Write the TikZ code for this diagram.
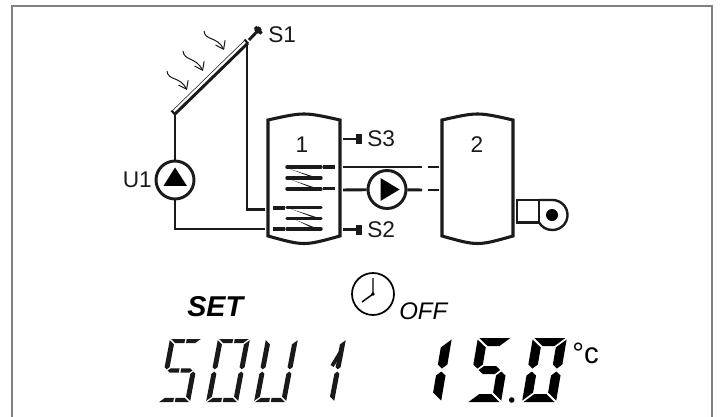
\documentclass[tikz,border=0pt]{standalone}
\usepackage{fontspec}
\setmainfont{Liberation Sans}
\usetikzlibrary{arrows.meta}
\definecolor{ink}{HTML}{1A1A1A}
\definecolor{framec}{HTML}{808080}
\tikzset{
  pipe/.style={draw=ink,line width=2.2pt},
  tankbody/.style={draw=ink,line width=2.3pt},
  pumpring/.style={circle,draw=ink,line width=2.2pt,minimum size=28.5pt,inner sep=0pt},
  coil/.style={draw=ink,line width=2.6pt,line cap=round},
  coildash/.style={draw=ink,line width=2.4pt},
  sunray/.style={draw=ink,line width=.75pt,-{Straight Barb[length=5.5pt,width=8pt,line width=.75pt]}},
  lab/.style={inner sep=0pt,text=ink,font=\fontsize{17pt}{18pt}\selectfont},
  probe/.style={draw=ink,line width=2.2pt,-{Rectangle[length=4.5pt,width=7.5pt]}},
}
% seven-segment display pieces, local coordinates in px, y up
\newcommand{\segA}{\fill (\O,\H) -- ({\W-\O},\H) -- ({\W-\O-\Tx},{\H-\Ty}) -- ({\O+\Tx},{\H-\Ty}) -- cycle;}
\newcommand{\segAa}{\fill (\O,\H) -- ({\W/2-.8},\H) -- ({\W/2-.8},{\H-\Ty}) -- ({\O+\Tx},{\H-\Ty}) -- cycle;}
\newcommand{\segAb}{\fill ({\W/2+.8},\H) -- ({\W-\O},\H) -- ({\W-\O-\Tx},{\H-\Ty}) -- ({\W/2+.8},{\H-\Ty}) -- cycle;}
\newcommand{\segD}{\fill (\O,0) -- ({\W-\O},0) -- ({\W-\O-\Tx},\Ty) -- ({\O+\Tx},\Ty) -- cycle;}
\newcommand{\segDa}{\fill (\O,0) -- ({\W/2-.8},0) -- ({\W/2-.8},\Ty) -- ({\O+\Tx},\Ty) -- cycle;}
\newcommand{\segDb}{\fill ({\W/2+.8},0) -- ({\W-\O},0) -- ({\W-\O-\Tx},\Ty) -- ({\W/2+.8},\Ty) -- cycle;}
\newcommand{\segF}{\fill (0,{\H-\O}) -- (\Tx,{\H-\O-\Ty}) -- (\Tx,{\H/2+\Ty/2+\O}) -- ({\Tx/2},{\H/2+\O}) -- (0,{\H/2+\O+\Ty/2}) -- cycle;}
\newcommand{\segE}{\fill (0,\O) -- (\Tx,{\O+\Ty}) -- (\Tx,{\H/2-\Ty/2-\O}) -- ({\Tx/2},{\H/2-\O}) -- (0,{\H/2-\O-\Ty/2}) -- cycle;}
\newcommand{\segB}{\fill (\W,{\H-\O}) -- ({\W-\Tx},{\H-\O-\Ty}) -- ({\W-\Tx},{\H/2+\Ty/2+\O}) -- ({\W-\Tx/2},{\H/2+\O}) -- (\W,{\H/2+\O+\Ty/2}) -- cycle;}
\newcommand{\segC}{\fill (\W,\O) -- ({\W-\Tx},{\O+\Ty}) -- ({\W-\Tx},{\H/2-\Ty/2-\O}) -- ({\W-\Tx/2},{\H/2-\O}) -- (\W,{\H/2-\O-\Ty/2}) -- cycle;}
\newcommand{\segG}{\fill ({\Tx/2+\O},{\H/2}) -- ({\Tx+\O},{\H/2+\Ty/2}) -- ({\W-\Tx-\O},{\H/2+\Ty/2}) -- ({\W-\Tx/2-\O},{\H/2}) -- ({\W-\Tx-\O},{\H/2-\Ty/2}) -- ({\Tx+\O},{\H/2-\Ty/2}) -- cycle;}
\newcommand{\segGa}{\fill ({\Tx/2+\O},{\H/2}) -- ({\Tx+\O},{\H/2+\Ty/2}) -- ({\W/2-.8},{\H/2+\Ty/2}) -- ({\W/2-.8},{\H/2-\Ty/2}) -- ({\Tx+\O},{\H/2-\Ty/2}) -- cycle;}
\newcommand{\segGb}{\fill ({\W/2+.8},{\H/2+\Ty/2}) -- ({\W-\Tx-\O},{\H/2+\Ty/2}) -- ({\W-\Tx/2-\O},{\H/2}) -- ({\W-\Tx-\O},{\H/2-\Ty/2}) -- ({\W/2+.8},{\H/2-\Ty/2}) -- cycle;}
\newcommand{\thinparams}{\def\W{32}\def\H{63}\def\Tx{5}\def\Ty{4.2}\def\O{1.2}}
\newcommand{\boldparams}{\def\W{34}\def\H{64}\def\Tx{9.5}\def\Ty{8}\def\O{1.5}}
\begin{document}
\begin{tikzpicture}[x=.75pt,y=-.75pt]
\useasboundingbox (0,0) rectangle (721,417);
\fill[white] (0,0) rectangle (721,417);
% frame, open at the bottom
\draw[framec,line width=1.2pt] (12,417) -- (12,6) -- (712,6) -- (712,417);

% collector
\coordinate (panelLow) at (175,114);
\coordinate (panelHigh) at (247,43);
\draw[ink,line width=.4pt] (172,111) -- (245,40);
\draw[ink,line width=2.2pt] (175,114) -- (248,43);
\draw[ink,line width=1.6pt] (171.5,110.5) -- (175,114.5);
\draw[ink,line width=1.6pt] (244.5,39.5) -- (248,43.5);
% sun rays
\draw[sunray] (167,71) .. controls (168,81) and (180,76) .. (187,90);
\draw[sunray] (183,51) .. controls (184,61) and (196,57) .. (203,71);
\draw[sunray] (204,31) .. controls (205,41) and (217,36) .. (224,50);
% S1 probe
\coordinate (s1a) at (249,40);
\coordinate (s1b) at (258,30.5);
\draw[ink,line width=2.2pt] (s1a) -- (s1b);
\draw[ink,line width=2.6pt] (255,27) -- (261.5,33.5);
\fill[ink] (258,30) circle (3.6);
\node[lab,anchor=west] (ls1) at (268,35) {S1};

% tanks
\draw[tankbody] (268,120) .. controls (304,112) .. (340,120) -- (340,236) .. controls (304,246) .. (268,236) -- cycle;
\draw[tankbody] (442,120) .. controls (477.5,112) .. (513,120) -- (513,236) .. controls (477.5,246) .. (442,236) -- cycle;
\node[lab] (t1) at (302,145) {1};
\node[lab] (t2) at (477,145) {2};

% pump U1
\node[pumpring] (u1) at (175,180) {};
\fill[black] (175,167.5) -- (187,186) -- (163.5,186) -- cycle;
\node[lab,anchor=east] (lu1) at (152,180) {U1};
\coordinate (t1in) at (265,229);
\coordinate (corner1) at (175,229);
\coordinate (t1out) at (265,209.5);
\coordinate (corner2) at (247,209.5);
\draw[pipe] (panelLow) -- (u1);
\draw[pipe] (u1) -- (corner1) -- (t1in);
\draw[pipe] (panelHigh) -- (corner2) -- (t1out);

% coils
\foreach \yy in {167,178,189,207.5,218.5,229}{\draw[coil] (287,\yy) -- (321,\yy);}
\fill[ink] (290,169) -- (315,177) -- (311,177) -- cycle;
\fill[ink] (292,180) -- (316,188) -- (312,188) -- cycle;
\fill[ink] (291,209) -- (316,217) -- (312,217) -- cycle;
\fill[ink] (296,220) -- (316,228) -- (312,228) -- cycle;
\draw[coildash] (323,167) -- (335,167);
\draw[coildash] (323,188.5) -- (335,188.5);
\draw[coildash] (273,208) -- (285,208);
\draw[coildash] (273,229) -- (285,229);

% circuit to tank 2
\coordinate (a1) at (343,167);
\coordinate (a2) at (422,167);
\draw[pipe] (a1) -- (a2);
\draw[pipe] (428,167) -- (439,167);
\node[pumpring] (p2) at (387,189.5) {};
\fill[black] (380.5,178) -- (399.5,189.5) -- (380.5,201) -- cycle;
\coordinate (b1) at (343,190);
\coordinate (b2) at (422,190);
\draw[pipe] (b1) -- (p2);
\draw[pipe] (p2) -- (b2);
\draw[pipe] (428,190) -- (439,190);

% probes S3 S2
\node[lab,anchor=west] (ls3) at (367,139) {S3};
\node[lab,anchor=west] (ls2) at (367,230) {S2};
\coordinate (s3a) at (343,139);
\coordinate (s2a) at (343,229.5);
\coordinate (s3b) at (362,139);
\coordinate (s2b) at (362,229.5);
\draw[probe] (s3a) -- (s3b);
\draw[probe] (s2a) -- (s2b);

% boiler
\draw[ink,line width=2.2pt] (517,200) rectangle (539,222.5);
\draw[ink,line width=1.8pt] (539,200) -- (552.5,200) arc[start angle=-90,end angle=90,x radius=15,y radius=15]
  .. controls (546,230) and (542,227) .. (539,222.5);
\fill[black] (552,215) circle (6);

% lower text
\node[inner sep=0pt,anchor=west,text=black,font=\fontsize{21.5pt}{24pt}\selectfont\bfseries\itshape] (set) at (187,307) {SET};
\draw[black,line width=1.3pt] (373,294) circle (21);
\draw[black,line width=1.1pt] (373,278) -- (373,294) -- (362,302);
\fill[black] (373,294) circle (1.8);
\node[inner sep=0pt,anchor=west,text=black,font=\fontsize{18pt}{20pt}\selectfont\itshape] (off) at (399,311) {OFF};
\node[inner sep=0pt,anchor=base west,text=black,font=\fontsize{22pt}{24pt}\selectfont] (deg) at (572,363) {°c};

% thin display
\begin{scope}[ink]
\thinparams
\begin{scope}[shift={(158,402)},x=.75pt,y=.75pt,xslant=.19]
\segAa\segAb\segF\segGa\segGb\segC\segDa\segDb
\end{scope}
\begin{scope}[shift={(206,402)},x=.75pt,y=.75pt,xslant=.19]
\segAa\segAb\segF\segE\segB\segC\segDa\segDb
\end{scope}
\begin{scope}[shift={(254,402)},x=.75pt,y=.75pt,xslant=.19]
\segF\segE\segB\segC\segDa\segDb
\end{scope}
\begin{scope}[shift={(302,402)},x=.75pt,y=.75pt,xslant=.19]
\segB\segC
\fill (21.5,37) -- (31,60) -- (28,42) -- (25,35) -- cycle;
\end{scope}
\end{scope}

% bold display
\begin{scope}[black]
\boldparams
\begin{scope}[shift={(407,402)},x=.75pt,y=.75pt,xslant=.17]
\segB\segC
\end{scope}
\begin{scope}[shift={(467,402)},x=.75pt,y=.75pt,xslant=.17]
\segA\segF\segG\segC\segD
\end{scope}
\begin{scope}[shift={(522,402)},x=.75pt,y=.75pt,xslant=.17]
\segA\segF\segE\segB\segC\segD
\end{scope}
\fill (511.7,400) circle (2.8);
\end{scope}
\end{tikzpicture}
\end{document}
